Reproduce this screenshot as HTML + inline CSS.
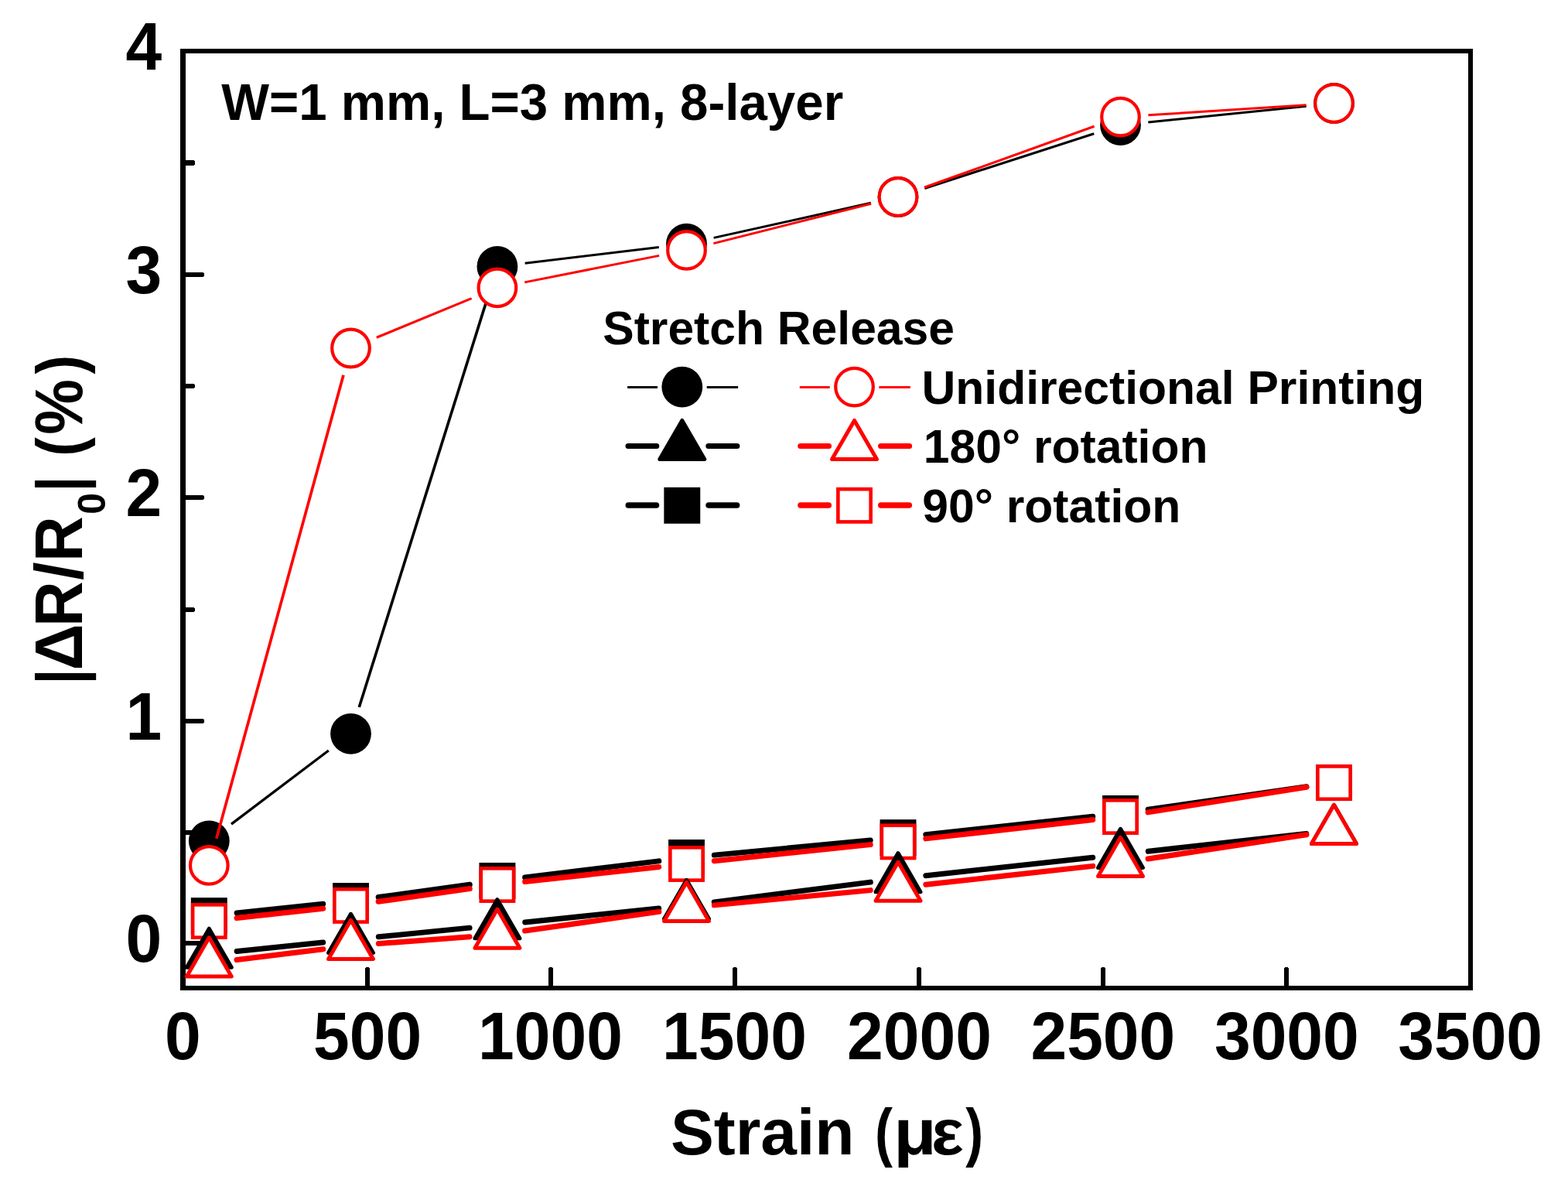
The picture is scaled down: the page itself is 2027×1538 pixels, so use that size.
<!DOCTYPE html>
<html lang="en">
<head>
<meta charset="utf-8">
<title>Resistance change vs strain</title>
<style>
html,body{margin:0;padding:0;background:#fff;}
body{width:2027px;height:1538px;overflow:hidden;}
svg{display:block;}
text{white-space:pre;}
.t{font-family:"Liberation Sans",sans-serif;font-weight:700;fill:#000;}
</style>
</head>
<body>
<svg width="2027" height="1538" viewBox="0 0 2027 1538" role="img" aria-label="Relative resistance change versus strain for unidirectional, 180° rotation and 90° rotation printing (stretch and release)">
<rect x="0" y="0" width="2027" height="1538" fill="#fff"/>
<g id="axes" fill="#000" shape-rendering="crispEdges">
<rect x="233" y="63" width="7" height="1217"/>
<rect x="1898" y="63" width="6" height="1217"/>
<rect x="233" y="63" width="1671" height="6"/>
<rect x="233" y="1274" width="1671" height="6"/>
</g>
<g id="ticks" fill="#000" shape-rendering="crispEdges">
<path d="M239 1216H261.5Q264 1216 264 1219Q264 1222 261.5 1222H239Z"/>
<path d="M239 929H261.5Q264 929 264 932Q264 935 261.5 935H239Z"/>
<path d="M239 640H261.5Q264 640 264 643Q264 646 261.5 646H239Z"/>
<path d="M239 352H261.5Q264 352 264 355Q264 358 261.5 358H239Z"/>
<path d="M239 207H249.5Q252 207 252 210.5Q252 214 249.5 214H239Z"/>
<path d="M239 496H249.5Q252 496 252 499.0Q252 502 249.5 502H239Z"/>
<path d="M239 785H249.5Q252 785 252 788.0Q252 791 249.5 791H239Z"/>
<path d="M239 1073H249.5Q252 1073 252 1076.0Q252 1079 249.5 1079H239Z"/>
<path d="M472 1275V1252.5Q472 1250 475 1250Q478 1250 478 1252.5V1275Z"/>
<path d="M709 1275V1252.5Q709 1250 712 1250Q715 1250 715 1252.5V1275Z"/>
<path d="M947 1275V1252.5Q947 1250 950 1250Q953 1250 953 1252.5V1275Z"/>
<path d="M1185 1275V1252.5Q1185 1250 1188 1250Q1191 1250 1191 1252.5V1275Z"/>
<path d="M1423 1275V1252.5Q1423 1250 1426 1250Q1429 1250 1429 1252.5V1275Z"/>
<path d="M1660 1275V1252.5Q1660 1250 1663 1250Q1666 1250 1666 1252.5V1275Z"/>
</g>
<g id="plot">
<path d="M299.02 1065.09L424.78 970.01" fill="none" stroke="#000" stroke-width="3.3" stroke-linecap="butt"/>
<path d="M464.27 913.95L632.13 378.85" fill="none" stroke="#000" stroke-width="3.6" stroke-linecap="butt"/>
<path d="M678.64 340.22L851.76 319.48M922.64 307.4L1125.86 262.3M1484.31 158.04L1688.69 137.16" fill="none" stroke="#000" stroke-width="3" stroke-linecap="butt"/>
<path d="M1195.26 243.44L1414.24 172.76" fill="none" stroke="#000" stroke-width="3.1" stroke-linecap="butt"/>
<circle cx="270.3" cy="1086.8" r="26.4" fill="#000"/>
<circle cx="453.5" cy="948.3" r="26.4" fill="#000"/>
<circle cx="642.9" cy="344.5" r="26.4" fill="#000"/>
<circle cx="887.5" cy="315.2" r="26.4" fill="#000"/>
<circle cx="1161" cy="254.5" r="26.4" fill="#000"/>
<circle cx="1448.5" cy="161.7" r="26.4" fill="#000"/>
<circle cx="1724.5" cy="133.5" r="26.4" fill="#000"/>
<path d="M279.82 1083.68L443.98 484.72" fill="none" stroke="#f00" stroke-width="3.7" stroke-linecap="butt"/>
<path d="M486.78 436.28L609.62 385.62M1194.88 242.32L1414.62 163.28" fill="none" stroke="#f00" stroke-width="3.1" stroke-linecap="butt"/>
<path d="M678.21 364.9L852.19 330.4M922.41 314.61L1126.09 263.29M1484.43 148.81L1688.57 135.79" fill="none" stroke="#f00" stroke-width="3" stroke-linecap="butt"/>
<circle cx="270.3" cy="1118.4" r="24.3" fill="#fff" stroke="#f00" stroke-width="4.2"/>
<circle cx="453.5" cy="450" r="24.3" fill="#fff" stroke="#f00" stroke-width="4.2"/>
<circle cx="642.9" cy="371.9" r="24.3" fill="#fff" stroke="#f00" stroke-width="4.2"/>
<circle cx="887.5" cy="323.4" r="24.3" fill="#fff" stroke="#f00" stroke-width="4.2"/>
<circle cx="1161" cy="254.5" r="24.3" fill="#fff" stroke="#f00" stroke-width="4.2"/>
<circle cx="1448.5" cy="151.1" r="24.3" fill="#fff" stroke="#f00" stroke-width="4.2"/>
<circle cx="1724.5" cy="133.5" r="24.3" fill="#fff" stroke="#f00" stroke-width="4.2"/>
<path d="M306.11 1179.87L417.69 1168.23M489.16 1159.59L607.24 1143.31M678.63 1134.03L851.77 1112.87M923.34 1105.11L1125.16 1085.99M1196.79 1078.72L1412.71 1055.28M1484.13 1046.26L1688.87 1016.74" fill="none" stroke="#000" stroke-width="7" stroke-linecap="round"/>
<rect x="246.85" y="1160.15" width="46.9" height="46.9" fill="#000"/>
<rect x="430.05" y="1141.05" width="46.9" height="46.9" fill="#000"/>
<rect x="619.45" y="1114.95" width="46.9" height="46.9" fill="#000"/>
<rect x="864.05" y="1085.05" width="46.9" height="46.9" fill="#000"/>
<rect x="1137.55" y="1059.15" width="46.9" height="46.9" fill="#000"/>
<rect x="1425.05" y="1027.95" width="46.9" height="46.9" fill="#000"/>
<rect x="1701.05" y="988.15" width="46.9" height="46.9" fill="#000"/>
<path d="M306.09 1186.57L417.71 1174.33M489.14 1165.34L607.26 1148.56M678.68 1139.55L851.72 1120.45M923.3 1112.76L1125.2 1091.64M1196.77 1083.87L1412.73 1059.53M1484.05 1049.85L1688.95 1017.25" fill="none" stroke="#f00" stroke-width="7" stroke-linecap="round"/>
<rect x="249.15" y="1169.35" width="42.3" height="42.3" fill="#fff" stroke="#f00" stroke-width="4.6"/>
<rect x="432.35" y="1149.25" width="42.3" height="42.3" fill="#fff" stroke="#f00" stroke-width="4.6"/>
<rect x="621.75" y="1122.35" width="42.3" height="42.3" fill="#fff" stroke="#f00" stroke-width="4.6"/>
<rect x="866.35" y="1095.35" width="42.3" height="42.3" fill="#fff" stroke="#f00" stroke-width="4.6"/>
<rect x="1139.85" y="1066.75" width="42.3" height="42.3" fill="#fff" stroke="#f00" stroke-width="4.6"/>
<rect x="1427.35" y="1034.35" width="42.3" height="42.3" fill="#fff" stroke="#f00" stroke-width="4.6"/>
<rect x="1703.35" y="990.45" width="42.3" height="42.3" fill="#fff" stroke="#f00" stroke-width="4.6"/>
<path d="M306.11 1229.51L417.69 1217.99M489.33 1210.76L607.07 1199.14M678.71 1191.91L851.69 1174.09M923.21 1165.86L1125.29 1140.14M1196.79 1131.7L1412.71 1108.2M1484.28 1100.29L1688.72 1077.41" fill="none" stroke="#000" stroke-width="7" stroke-linecap="round"/>
<polygon points="270.3,1200.16 299.26,1250.32 241.34,1250.32" fill="#000" stroke="#000" stroke-width="5.0" stroke-linejoin="round"/>
<polygon points="453.5,1181.26 482.46,1231.42 424.54,1231.42" fill="#000" stroke="#000" stroke-width="5.0" stroke-linejoin="round"/>
<polygon points="642.9,1162.56 671.86,1212.72 613.94,1212.72" fill="#000" stroke="#000" stroke-width="5.0" stroke-linejoin="round"/>
<polygon points="887.5,1137.36 916.46,1187.52 858.54,1187.52" fill="#000" stroke="#000" stroke-width="5.0" stroke-linejoin="round"/>
<polygon points="1161,1102.56 1189.96,1152.72 1132.04,1152.72" fill="#000" stroke="#000" stroke-width="5.0" stroke-linejoin="round"/>
<polygon points="1448.5,1071.26 1477.46,1121.42 1419.54,1121.42" fill="#000" stroke="#000" stroke-width="5.0" stroke-linejoin="round"/>
<polygon points="1724.5,1040.36 1753.46,1090.52 1695.54,1090.52" fill="#000" stroke="#000" stroke-width="5.0" stroke-linejoin="round"/>
<path d="M306.03 1240.49L417.77 1226.71M489.4 1219.61L607 1210.79M678.54 1203.03L851.86 1178.37M923.34 1169.88L1125.16 1150.62M1196.78 1143.24L1412.72 1119.36M1484.09 1109.98L1688.91 1078.82" fill="none" stroke="#f00" stroke-width="7" stroke-linecap="round"/>
<polygon points="270.3,1211.86 299.26,1262.02 241.34,1262.02" fill="#fff" stroke="#f00" stroke-width="5.0" stroke-linejoin="round"/>
<polygon points="453.5,1189.26 482.46,1239.42 424.54,1239.42" fill="#fff" stroke="#f00" stroke-width="5.0" stroke-linejoin="round"/>
<polygon points="642.9,1175.06 671.86,1225.22 613.94,1225.22" fill="#fff" stroke="#f00" stroke-width="5.0" stroke-linejoin="round"/>
<polygon points="887.5,1140.26 916.46,1190.42 858.54,1190.42" fill="#fff" stroke="#f00" stroke-width="5.0" stroke-linejoin="round"/>
<polygon points="1161,1114.16 1189.96,1164.32 1132.04,1164.32" fill="#fff" stroke="#f00" stroke-width="5.0" stroke-linejoin="round"/>
<polygon points="1448.5,1082.36 1477.46,1132.52 1419.54,1132.52" fill="#fff" stroke="#f00" stroke-width="5.0" stroke-linejoin="round"/>
<polygon points="1724.5,1040.36 1753.46,1090.52 1695.54,1090.52" fill="#fff" stroke="#f00" stroke-width="5.0" stroke-linejoin="round"/>
</g>
<text transform="translate(213,1369.2) scale(1,1.035)" class="t" font-size="84">0</text>
<text transform="translate(404.96,1369.2) scale(1,1.035)" class="t" font-size="84">500</text>
<text transform="translate(618.04,1369.2) scale(1,1.035)" class="t" font-size="84">1000</text>
<text transform="translate(856.04,1369.2) scale(1,1.035)" class="t" font-size="84">1500</text>
<text transform="translate(1095.03,1369.2) scale(1,1.035)" class="t" font-size="84">2000</text>
<text transform="translate(1332.43,1369.2) scale(1,1.035)" class="t" font-size="84">2500</text>
<text transform="translate(1569.93,1369.2) scale(1,1.035)" class="t" font-size="84">3000</text>
<text transform="translate(1807.23,1369.2) scale(1,1.035)" class="t" font-size="84">3500</text>
<text transform="translate(209.3,1243) scale(1,1.035)" class="t" font-size="84" text-anchor="end">0</text>
<text transform="translate(209.3,956) scale(1,1.035)" class="t" font-size="84" text-anchor="end">1</text>
<text transform="translate(209.3,667) scale(1,1.035)" class="t" font-size="84" text-anchor="end">2</text>
<text transform="translate(209.3,379) scale(1,1.035)" class="t" font-size="84" text-anchor="end">3</text>
<text transform="translate(209.3,90) scale(1,1.035)" class="t" font-size="84" text-anchor="end">4</text>
<text transform="translate(286.24,154.9) scale(1,1.015)" class="t" font-size="65.45">W=1 mm, L=3 mm, 8-layer</text>
<text transform="translate(779.25,444.7)" class="t" font-size="60.6">Stretch Release</text>
<text transform="translate(1191.56,521.8)" class="t" font-size="60.6">Unidirectional Printing</text>
<text transform="translate(1193.78,597.8)" class="t" font-size="60.6">180° rotation</text>
<text transform="translate(1192.3,674.5)" class="t" font-size="60.6">90° rotation</text>
<text transform="translate(0,1491.9)" class="t" font-size="83.8" aria-label="Strain (με)"><tspan x="866.89">Strain </tspan><tspan x="1130.88" textLength="22.88" lengthAdjust="spacingAndGlyphs">(</tspan><tspan x="1155.34" textLength="55.37" lengthAdjust="spacingAndGlyphs">μ</tspan><tspan x="1203.97" textLength="41.76" lengthAdjust="spacingAndGlyphs">ε</tspan><tspan x="1248.14" textLength="22.88" lengthAdjust="spacingAndGlyphs">)</tspan></text>
<text transform="translate(106.0,880.0) rotate(-90) scale(1,1.04)" class="t" font-size="83.8" aria-label="|ΔR/R0| (%)"><tspan x="-4.26" font-size="80.58" textLength="19.69" lengthAdjust="spacingAndGlyphs">|</tspan><tspan x="13.55">Δ</tspan><tspan x="70.01" textLength="58.7" lengthAdjust="spacingAndGlyphs">R</tspan><tspan x="130.36">/</tspan><tspan x="154.01" textLength="58.7" lengthAdjust="spacingAndGlyphs">R</tspan><tspan x="215.23" dy="28.56" font-size="48.08" textLength="27.81" lengthAdjust="spacingAndGlyphs">0</tspan><tspan x="244.69" dy="-28.56" font-size="80.58" textLength="19.69" lengthAdjust="spacingAndGlyphs">|</tspan><tspan> </tspan><tspan x="290.17" font-size="80.58" textLength="24.56" lengthAdjust="spacingAndGlyphs">(</tspan><tspan x="318.29" textLength="71.53" lengthAdjust="spacingAndGlyphs">%</tspan><tspan x="396.62" font-size="80.58" textLength="24.56" lengthAdjust="spacingAndGlyphs">)</tspan></text>
<g id="legend">
<path d="M811.1 500.5H850M913.7 500.5H954.1" stroke="#000" stroke-width="3" stroke-linecap="butt" fill="none"/>
<circle cx="881.8" cy="500.1" r="26.4" fill="#000"/>
<path d="M1033.8 500.5H1072.7M1136.4 500.5H1176.8" stroke="#f00" stroke-width="3" stroke-linecap="butt" fill="none"/>
<circle cx="1104.5" cy="500.1" r="24.3" fill="#fff" stroke="#f00" stroke-width="4.2"/>
<path d="M812 576.5H848.8M915.8 576.5H952.9" stroke="#000" stroke-width="7" stroke-linecap="round" fill="none"/>
<polygon points="881.8,543.41 910.76,593.57 852.84,593.57" fill="#000" stroke="#000" stroke-width="5.0" stroke-linejoin="round"/>
<path d="M1034.7 576.5H1071.5M1138.5 576.5H1175.6" stroke="#f00" stroke-width="7" stroke-linecap="round" fill="none"/>
<polygon points="1104.5,543.41 1133.46,593.57 1075.54,593.57" fill="#fff" stroke="#f00" stroke-width="5.0" stroke-linejoin="round"/>
<path d="M812.3 653.0H848.5M916.1 653.0H952.6" stroke="#000" stroke-width="7.6" stroke-linecap="round" fill="none"/>
<rect x="858.35" y="629.85" width="46.9" height="46.9" fill="#000"/>
<path d="M1035 653.0H1071.2M1138.8 653.0H1175.3" stroke="#f00" stroke-width="7.6" stroke-linecap="round" fill="none"/>
<rect x="1083.35" y="632.15" width="42.3" height="42.3" fill="#fff" stroke="#f00" stroke-width="4.6"/>
</g>
</svg>
</body>
</html>
